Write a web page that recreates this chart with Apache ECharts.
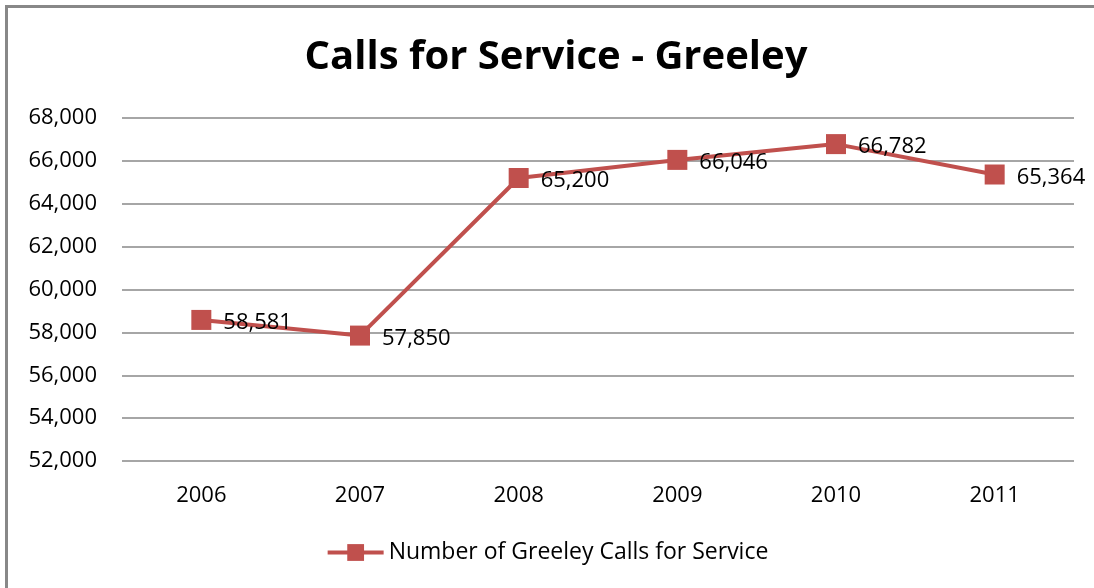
<!DOCTYPE html>
<html>
<head>
<meta charset="utf-8">
<script src="https://cdn.jsdelivr.net/npm/echarts@6/dist/echarts.min.js"></script>
<style>html,body{margin:0;padding:0;background:#fff;}#c{width:1094px;height:588px;}</style>
</head>
<body>
<div id="c"></div>
<script>
const categories = ['2006', '2007', '2008', '2009', '2010', '2011'];
const calls = [58581, 57850, 65200, 66046, 66782, 65364];
const seriesName = 'Number of Greeley Calls for Service';
const titleText = 'Calls for Service - Greeley';

const chart = echarts.init(document.getElementById('c'));
const font = '"Open Sans", "Noto Sans", sans-serif';
chart.setOption({
  animation: false,
  backgroundColor: '#fff',
  graphic: [{
    type: 'rect',
    shape: { x: 6.5, y: 6.5, width: 1200, height: 700 },
    style: { fill: 'none', stroke: '#888', lineWidth: 3 },
    silent: true
  }],
  title: {
    text: titleText,
    left: 551, top: 33, textAlign: 'center',
    textStyle: { fontFamily: font, fontWeight: 'bold', fontSize: 40, color: '#000' }
  },
  legend: {
    bottom: 19, left: 'center',
    itemWidth: 56, itemHeight: 21,
    itemGap: 6,
    lineStyle: { width: 4 },
    textStyle: { fontFamily: font, fontSize: 23, color: '#000' },
    data: [seriesName]
  },
  grid: { left: 122, right: 20, top: 118, bottom: 127, containLabel: false },
  xAxis: {
    type: 'category',
    data: categories,
    boundaryGap: true,
    axisLine: { show: false },
    axisTick: { show: false },
    axisLabel: { fontFamily: font, fontSize: 22, color: '#000', margin: 24 }
  },
  yAxis: {
    type: 'value',
    min: 52000, max: 68000, interval: 2000,
    axisLine: { show: false },
    axisTick: { show: false },
    splitLine: { lineStyle: { color: '#888', width: 1.5 } },
    axisLabel: {
      fontFamily: font, fontSize: 22, color: '#000', margin: 25,
      formatter: v => v.toLocaleString('en-US')
    }
  },
  series: [{
    name: seriesName,
    type: 'line',
    data: calls,
    symbol: 'rect',
    symbolSize: 20,
    itemStyle: { color: '#C0504D' },
    lineStyle: { color: '#C0504D', width: 4 },
    label: {
      show: true, position: 'right', distance: 12,
      offset: [0, 3],
      fontFamily: font, fontSize: 22, color: '#000',
      formatter: p => p.value.toLocaleString('en-US')
    }
  }]
});
</script>
</body>
</html>
